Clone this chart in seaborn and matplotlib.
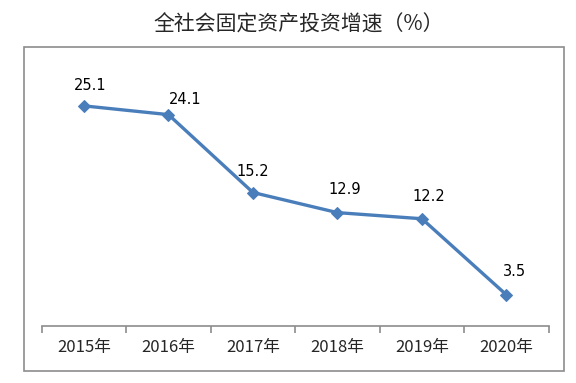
import matplotlib.pyplot as plt
import matplotlib.patches as patches
import pandas as pd
import seaborn as sns

years = ["2015年", "2016年", "2017年", "2018年", "2019年", "2020年"]
growth = [25.1, 24.1, 15.2, 12.9, 12.2, 3.5]
# label offsets in points (dx, dy)
label_offsets = [(4.5, 15), (12, 11), (0, 15), (5, 17), (5, 16), (6, 17)]

sns.set_theme(style="white")
plt.rcParams["font.family"] = ["Noto Sans CJK SC", "DejaVu Sans"]

df = pd.DataFrame({"year": years, "growth": growth})

fig = plt.figure(figsize=(5.76, 3.83), dpi=100)
ax = fig.add_axes([41.7 / 576, 1 - 325.5 / 383, 507 / 576, 262.5 / 383])

# outer chart frame
fig.patches.append(patches.Rectangle(
    (24 / 576, 1 - 371 / 383), (564 - 24) / 576, (371 - 47.3) / 383,
    transform=fig.transFigure, fill=False, edgecolor="#8c8c8c", linewidth=1.2,
))

x = list(range(len(years)))
sns.lineplot(x=x, y=df["growth"], ax=ax, color="#4a7ebb", linewidth=2.4,
             marker="D", markersize=6.5, markeredgecolor="#4a7ebb")

for xi, v, (dx, dy) in zip(x, growth, label_offsets):
    ax.annotate(f"{v}", (xi, v), xytext=(dx, dy), textcoords="offset points",
                ha="center", va="center", fontsize=10.5, color="black",
                family=["DejaVu Sans"])

ax.set_xlim(-0.5, len(years) - 0.5)
ax.set_ylim(0, 30)
ax.set_xticks([i - 0.5 for i in range(len(years) + 1)])
ax.set_xticklabels([])
ax.set_xticks(x, minor=True)
ax.set_xticklabels(years, minor=True, fontsize=12)
ax.tick_params(axis="x", which="major", length=5, width=1.2, color="#8c8c8c",
               direction="out", bottom=True)
ax.tick_params(axis="x", which="minor", length=0, pad=9.5)
ax.set_yticks([])
ax.set_xlabel("")
ax.set_ylabel("")
for side in ["top", "right", "left"]:
    ax.spines[side].set_visible(False)
ax.spines["bottom"].set_color("#8c8c8c")
ax.spines["bottom"].set_linewidth(1.2)

fig.text(298.5 / 576, 1 - 25 / 383, "全社会固定资产投资增速（%）", ha="center", va="center",
         fontsize=15)

plt.savefig("out.png", dpi=100)
